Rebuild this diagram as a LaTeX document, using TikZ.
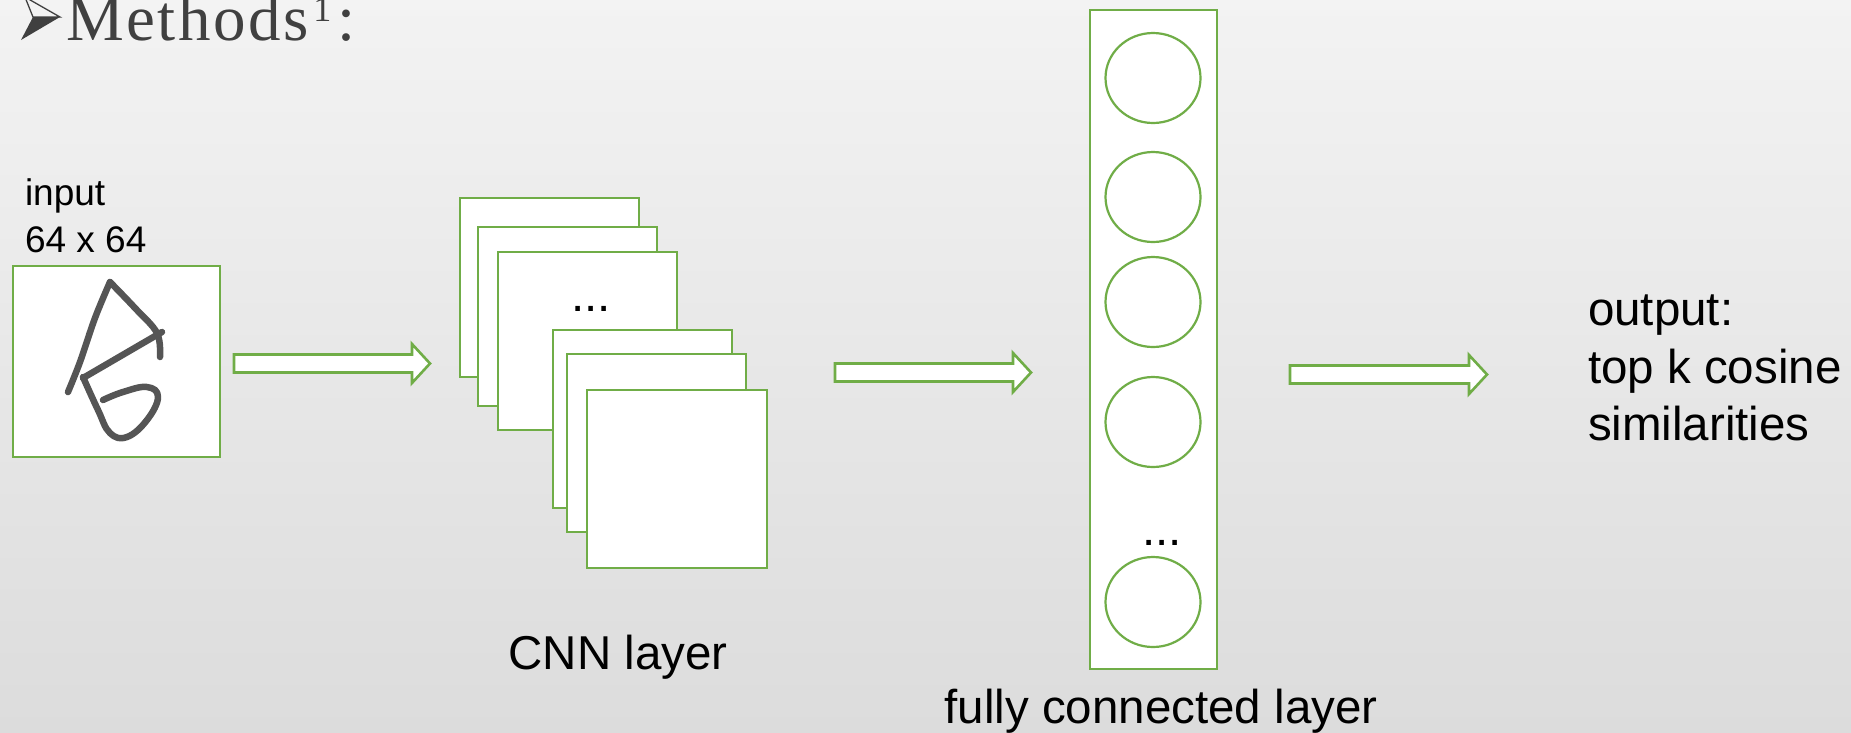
\documentclass[tikz,border=0pt]{standalone}
\usepackage{fontspec}
\setmainfont{Liberation Sans}
\newfontfamily\titlefont[LetterSpace=4]{Liberation Serif}
\usetikzlibrary{shapes.geometric}
\definecolor{greenline}{RGB}{112,173,71}
\definecolor{titlegray}{RGB}{64,64,64}
\definecolor{inkgray}{RGB}{85,85,85}
\definecolor{bgtop}{RGB}{243,243,243}
\definecolor{bgbot}{RGB}{220,220,220}
\begin{document}
\begin{tikzpicture}[x=1pt,y=-1pt,
  box/.style={draw=greenline, line width=2.6pt, fill=white, inner sep=0pt, outer sep=0pt, anchor=north west},
  neuron/.style={draw=greenline, line width=2.2pt, fill=white, ellipse, inner sep=0pt, minimum width=95pt, minimum height=90pt},
  blockarrow/.style={draw=greenline, line width=2.6pt, fill=white, line join=miter},
  lbl/.style={inner sep=0pt, outer sep=0pt, text=black, font=\fontsize{47.5}{56}\selectfont},
  smalllbl/.style={inner sep=0pt, outer sep=0pt, text=black, font=\fontsize{37}{44}\selectfont},
  ink/.style={draw=inkgray, line width=6.5pt, line cap=round, line join=round}]
\useasboundingbox (0,0) rectangle (1851,732);
\clip (0,0) rectangle (1851,732);
\shade[top color=bgtop, bottom color=bgbot] (0,0) rectangle (1851,732);

% title
\fill[titlegray] (33,17) -- (60,17) -- (21,40) -- cycle;
\draw[titlegray, line width=1.3pt, line join=miter] (25,-3) -- (60,17) -- (33,17) -- cycle;
\node (title) [anchor=base west, inner sep=0pt, text=titlegray] at (66,40)
  {\titlefont\fontsize{65}{78}\selectfont Methods\hspace{4pt}\raisebox{19pt}{\fontsize{36}{42}\selectfont 1}\hspace{6pt}:};

% input
\node (inlbl1) [smalllbl, anchor=base west] at (25,205) {input};
\node (inlbl2) [smalllbl, anchor=base west] at (25,252) {64 x 64};
\node (input) [box, minimum width=207pt, minimum height=191pt] at (13,266) {};
\draw[ink] plot[smooth, tension=0.6] coordinates {(68,392) (80,362) (95,318) (110,282)};
\draw[ink] plot[smooth, tension=0.6] coordinates {(110,282) (135,308) (157,333) (160,357)};
\draw[ink] (83,378) -- (162,332);
\draw[ink] plot[smooth, tension=0.7] coordinates {(83,377) (98,410) (110,433) (127,437) (147,420) (158,397) (147,387) (123,392) (103,400)};

% arrow 1
\draw[blockarrow] (234,354.5) -- (412,354.5) -- (412,344) -- (430,363.5) -- (412,383) -- (412,372.5) -- (234,372.5) -- cycle;

% CNN stack
\node (c1) [box, minimum width=179pt, minimum height=179pt] at (460,198) {};
\node (c2) [box, minimum width=179pt, minimum height=179pt] at (478,227) {};
\node (c3) [box, minimum width=179pt, minimum height=178pt] at (498,252) {};
\node (cdots) [lbl, anchor=base] at (591,311) {...};
\node (c4) [box, minimum width=179pt, minimum height=178pt] at (553,330) {};
\node (c5) [box, minimum width=179pt, minimum height=178pt] at (567,354) {};
\node (c6) [box, minimum width=180pt, minimum height=178pt] at (587,390) {};
\node (cnnlbl) [lbl, anchor=base] at (618,669) {CNN layer};

% arrow 2
\draw[blockarrow] (835,363.5) -- (1013,363.5) -- (1013,353) -- (1031,372.5) -- (1013,392) -- (1013,381.5) -- (835,381.5) -- cycle;

% fully connected layer
\node (fc) [box, minimum width=127pt, minimum height=659pt] at (1090,10) {};
\node (n1) [neuron] at (1153,78) {};
\node (n2) [neuron] at (1153,197) {};
\node (n3) [neuron] at (1153,302) {};
\node (n4) [neuron] at (1153,422) {};
\node (fdots) [lbl, anchor=base] at (1162,545) {...};
\node (n5) [neuron] at (1153,602) {};
\node (fclbl) [lbl, anchor=base] at (1161,723) {fully connected layer};

% arrow 3
\draw[blockarrow] (1290,365.5) -- (1469,365.5) -- (1469,355) -- (1487,374.5) -- (1469,394) -- (1469,383.5) -- (1290,383.5) -- cycle;

% output
\node (out1) [lbl, anchor=base west] at (1588,325) {output:};
\node (out2) [lbl, anchor=base west] at (1588,383) {top k cosine};
\node (out3) [lbl, anchor=base west] at (1588,440) {similarities};
\end{tikzpicture}
\end{document}
